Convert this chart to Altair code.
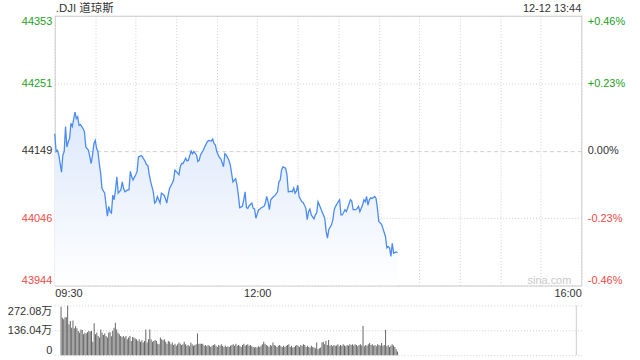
import json
import altair as alt
import pandas as pd

FONT = "Liberation Sans, Noto Sans CJK SC, sans-serif"
TITLE = ".DJI 道琼斯"
STAMP = "12-12 13:44"
WATERMARK = "sina.com"

PREV_CLOSE = 44148.5
PRICE_TICKS = [43944, 44046.25, 44148.5, 44250.75, 44353]
PRICE_LABELS = ["43944", "44046", "44149", "44251", "44353"]
PCT_LABELS = ["-0.46%", "-0.23%", "0.00%", "+0.23%", "+0.46%"]

TIME_GRID = [0, 30, 60, 90, 120, 150, 180, 210, 240, 270, 300, 330, 360, 390]
TIME_LABEL_AT = [0, 150, 390]
TIME_LABELS = ["09:30", "12:00", "16:00"]

VOL_TICKS = [0, 136.04, 272.08]
VOL_LABELS = ["0", "136.04万", "272.08万"]

# minutes after 09:30
PRICE_MIN = [0, 1, 2, 3, 5, 6, 7, 8, 9, 10, 11, 12, 13, 15, 16, 17, 18, 19, 21, 22,
             23, 25, 26, 27, 28, 29, 30, 31, 32, 33, 34, 35, 37, 38, 39, 40, 41, 42, 43, 44,
             45, 46, 47, 49, 50, 51, 52, 54, 55, 56, 57, 58, 60, 61, 62, 64, 65, 67, 68, 69,
             70, 71, 73, 74, 75, 76, 77, 78, 79, 81, 82, 83, 84, 85, 87, 88, 89, 90, 92, 93,
             94, 95, 97, 98, 99, 101, 102, 103, 105, 106, 107, 108,
             110, 111, 113, 114, 116, 117, 118, 119, 120, 122, 123, 125, 126, 127, 129, 130,
             131, 132, 134, 135, 136, 137, 139, 140, 141, 142, 143, 144, 146, 147, 148, 149,
             151, 152, 153, 155, 156, 157, 158, 159, 160, 162, 163, 165, 166, 167, 168, 169,
             171, 172, 173, 175, 176, 177, 178, 179, 180, 181, 183, 184, 186, 187, 188, 189,
             190, 192, 193, 194, 195, 197, 198, 200, 201, 202, 203, 205, 206, 207, 208, 210,
             211, 212, 213, 215, 216, 217, 219, 220, 221, 223, 224, 225, 226, 228, 229, 230,
             231, 232, 233, 234, 235, 237, 238, 239, 240, 241, 242, 243, 245, 246, 247, 248,
             249, 250, 251, 253, 254]
PRICE = [44174, 44147, 44149, 44142, 44116, 44142, 44147, 44185, 44154, 44162, 44167, 44190, 44185, 44207, 44197, 44200, 44187, 44188, 44182, 44177,
         44154, 44149, 44139, 44129, 44142, 44159, 44164, 44152, 44147, 44129, 44114, 44091, 44084, 44066, 44049, 44064, 44056, 44054, 44081, 44074,
         44089, 44109, 44084, 44089, 44101, 44091, 44086, 44089, 44089, 44117, 44109, 44104, 44112, 44117, 44139, 44141, 44139, 44132, 44127, 44126,
         44112, 44102, 44086, 44069, 44071, 44079, 44074, 44069, 44084, 44081, 44076, 44069, 44081, 44091, 44099, 44104, 44119, 44117, 44112, 44124,
         44129, 44129, 44137, 44133, 44134, 44148, 44144, 44147, 44142, 44132, 44134, 44142,
         44149, 44154, 44162, 44164, 44163, 44166, 44159, 44157, 44147, 44138, 44136, 44124, 44144, 44142, 44134, 44127,
         44114, 44101, 44106, 44096, 44081, 44062, 44064, 44074, 44086, 44062, 44061, 44065, 44069, 44061, 44060, 44046,
         44059, 44060, 44062, 44064, 44069, 44079, 44071, 44059, 44074, 44079, 44080, 44086, 44101, 44104, 44119, 44124,
         44122, 44112, 44086, 44087, 44086, 44092, 44084, 44087, 44096, 44079, 44071, 44070, 44061, 44044, 44056, 44060,
         44051, 44045, 44051, 44054, 44071, 44061, 44056, 44046, 44026, 44016, 44029, 44036, 44044, 44059, 44064, 44071,
         44074, 44051, 44051, 44059, 44056, 44062, 44074, 44072, 44059, 44059, 44061, 44064, 44056, 44066, 44074, 44071,
         44079, 44066, 44074, 44077, 44076, 44079, 44076, 44061, 44041, 44039, 44037, 44031, 44018, 44001, 44003, 44001,
         43988, 44008, 43993, 43995, 43994]

# volume per minute (万), minutes 1..255
VOL = [265, 205, 196, 208, 208, 272, 169, 187, 150, 190,
       147, 160, 147, 132, 123, 141, 138, 114, 123, 118,
       127, 132, 129, 132, 73, 174, 114, 123, 105, 96,
       141, 123, 111, 118, 105, 96, 123, 127, 103, 132,
       150, 178, 141, 123, 114, 105, 100, 105, 96, 105,
       87, 96, 105, 78, 100, 96, 91, 87, 78, 87,
       74, 82, 69, 78, 140, 69, 87, 140, 87, 74,
       78, 83, 78, 63, 60, 96, 87, 82, 87, 74,
       63, 78, 74, 60, 69, 56, 63, 51, 60, 69,
       63, 56, 60, 74, 60, 51, 56, 49, 69, 60,
       51, 56, 60, 118, 63, 63, 63, 63, 51, 56,
       49, 56, 51, 45, 51, 56, 60, 51, 45, 56,
       51, 60, 51, 45, 53, 45, 49, 45, 51, 56,
       60, 51, 63, 51, 56, 51, 45, 56, 63, 51,
       56, 60, 51, 56, 49, 45, 42, 45, 42, 49,
       45, 51, 60, 74, 63, 56, 51, 45, 56, 51,
       69, 56, 51, 45, 51, 56, 49, 45, 51, 45,
       51, 56, 60, 45, 51, 42, 45, 51, 56, 51,
       45, 56, 51, 60, 56, 45, 51, 45, 42, 51,
       45, 42, 38, 69, 33, 38, 42,
       69, 74, 60, 78, 56, 83, 51, 56, 49, 56,
       51, 53, 60, 49, 56, 51, 60, 53, 49, 56,
       51, 60, 56, 60, 53, 60, 56, 49, 56, 60,
       53, 160, 49, 56, 51, 60, 66, 56, 60, 51,
       56, 49, 60, 56, 51, 66, 51, 56, 138, 49,
       56, 45, 51, 60, 53, 45, 33, 20]
VOL_MIN = list(range(1, len(VOL) + 1))

GREEN = "#24a024"
RED = "#f04a46"
TEXT = "#333333"
GRID = "#cfcfcf"
BORDER = "#cccccc"
BLUE = "#4b8cf3"

price_df = pd.DataFrame({"m": PRICE_MIN, "p": PRICE})
vol_df = pd.DataFrame({"m": VOL_MIN, "v": VOL})
one = pd.DataFrame({"t": [TITLE], "s": [STAMP], "w": [WATERMARK]})


def lookup(ticks, labels):
    return f"{json.dumps(labels)}[indexof({json.dumps(ticks)}, datum.value)]"


color_cond = {
    "condition": [
        {"test": f"datum.value > {PREV_CLOSE + 0.1}", "value": GREEN},
        {"test": f"datum.value < {PREV_CLOSE - 0.1}", "value": RED},
    ],
    "value": TEXT,
}

time_expr = (f"indexof({json.dumps(TIME_LABEL_AT)}, datum.value) >= 0 ? "
             f"{json.dumps(TIME_LABELS)}[indexof({json.dumps(TIME_LABEL_AT)}, datum.value)] : ''")

x_scale = alt.Scale(domain=[0, 390], nice=False, zero=False)
y_scale = alt.Scale(domain=[PRICE_TICKS[0], PRICE_TICKS[-1]], nice=False, zero=False)

x_axis = alt.Axis(
    values=TIME_GRID, labelExpr=time_expr, grid=True, gridDash=[1, 2], gridColor=GRID,
    ticks=False, domain=False, labelFlush=True, labelPadding=2, title=None,
    labelOverlap=False, labelColor=TEXT)

left_axis = alt.Axis(
    values=PRICE_TICKS, labelExpr=lookup(PRICE_TICKS, PRICE_LABELS), labelColor=color_cond,
    grid=True, gridColor=GRID,
    gridDash={"condition": {"test": f"abs(datum.value - {PREV_CLOSE}) < 0.1", "value": [4, 3]},
              "value": [1, 2]},
    ticks=False, domain=False, labelFlush=True, labelPadding=3, title=None, labelOverlap=False)

right_axis = alt.Axis(
    orient="right", values=PRICE_TICKS, labelExpr=lookup(PRICE_TICKS, PCT_LABELS),
    labelColor=color_cond, grid=False, ticks=False, domain=False, labelFlush=True,
    labelPadding=6, title=None, labelOverlap=False)

x_enc = alt.X("m:Q", scale=x_scale, axis=x_axis)

gradient = alt.Gradient(
    gradient="linear",
    stops=[alt.GradientStop(color="#dce8fb", offset=0),
           alt.GradientStop(color="#ffffff", offset=1)],
    x1=1, x2=1, y1=0, y2=1)

area = alt.Chart(price_df).mark_area(color=gradient, clip=True).encode(
    x=x_enc, y=alt.Y("p:Q", scale=y_scale, axis=left_axis),
    y2=alt.Y2Datum(PRICE_TICKS[0]))

line = alt.Chart(price_df).mark_line(color=BLUE, strokeWidth=1.3).encode(
    x=x_enc, y=alt.Y("p:Q", scale=y_scale, axis=right_axis))


def label_layer(field, xv, yv, **kw):
    return alt.Chart(one).mark_text(baseline="middle", **kw).encode(
        x=alt.XDatum(xv, scale=x_scale, axis=x_axis),
        y=alt.YDatum(yv, scale=y_scale, axis=left_axis),
        text=f"{field}:N")


title_txt = label_layer("t", 0, PRICE_TICKS[-1], align="left", dx=1, dy=-7,
                        fontSize=11.5, color=TEXT)
stamp_txt = label_layer("s", 390, PRICE_TICKS[-1], align="right", dy=-7,
                        fontSize=11, color=TEXT)
mark_txt = label_layer("w", 390, PRICE_TICKS[0], align="right", dx=-10, dy=-5,
                       fontSize=11, color="#c8c8c8")

left_part = alt.layer(area, title_txt, stamp_txt, mark_txt)
main = alt.layer(left_part, line).resolve_axis(y="independent").properties(
    width=529, height=271)

vol_axis = alt.Axis(
    values=VOL_TICKS, labelExpr=lookup(VOL_TICKS, VOL_LABELS), labelColor=TEXT,
    grid=True, gridColor=GRID, gridDash=[1, 2], ticks=False, domain=False,
    labelFlush=True, labelPadding=3, title=None, labelOverlap=False)
vol_scale = alt.Scale(domain=[0, VOL_TICKS[-1]], nice=False)

bars = alt.Chart(vol_df).mark_bar(size=1, color="#666666", orient="vertical").encode(
    x=alt.X("m:Q", scale=x_scale, axis=None),
    y=alt.Y("v:Q", scale=vol_scale, axis=vol_axis))

edge = alt.Chart(one).mark_rule(color=BORDER).encode(
    x=alt.XDatum(390, scale=x_scale, axis=None),
    y=alt.YDatum(0, scale=vol_scale, axis=vol_axis),
    y2=alt.Y2Datum(VOL_TICKS[-1]))

volume = alt.layer(bars, edge).properties(
    width=529, height=50, view=alt.ViewBackground(strokeOpacity=0))

chart = alt.vconcat(main, volume, spacing=5).properties(
    padding={"left": 7, "top": 1, "right": 14, "bottom": 5},
    background="white",
).configure(font=FONT).configure_axis(
    labelFont=FONT, labelFontSize=11
).configure_view(stroke=BORDER)

chart.save("out.html", embed_options={"renderer": "svg", "actions": False})
